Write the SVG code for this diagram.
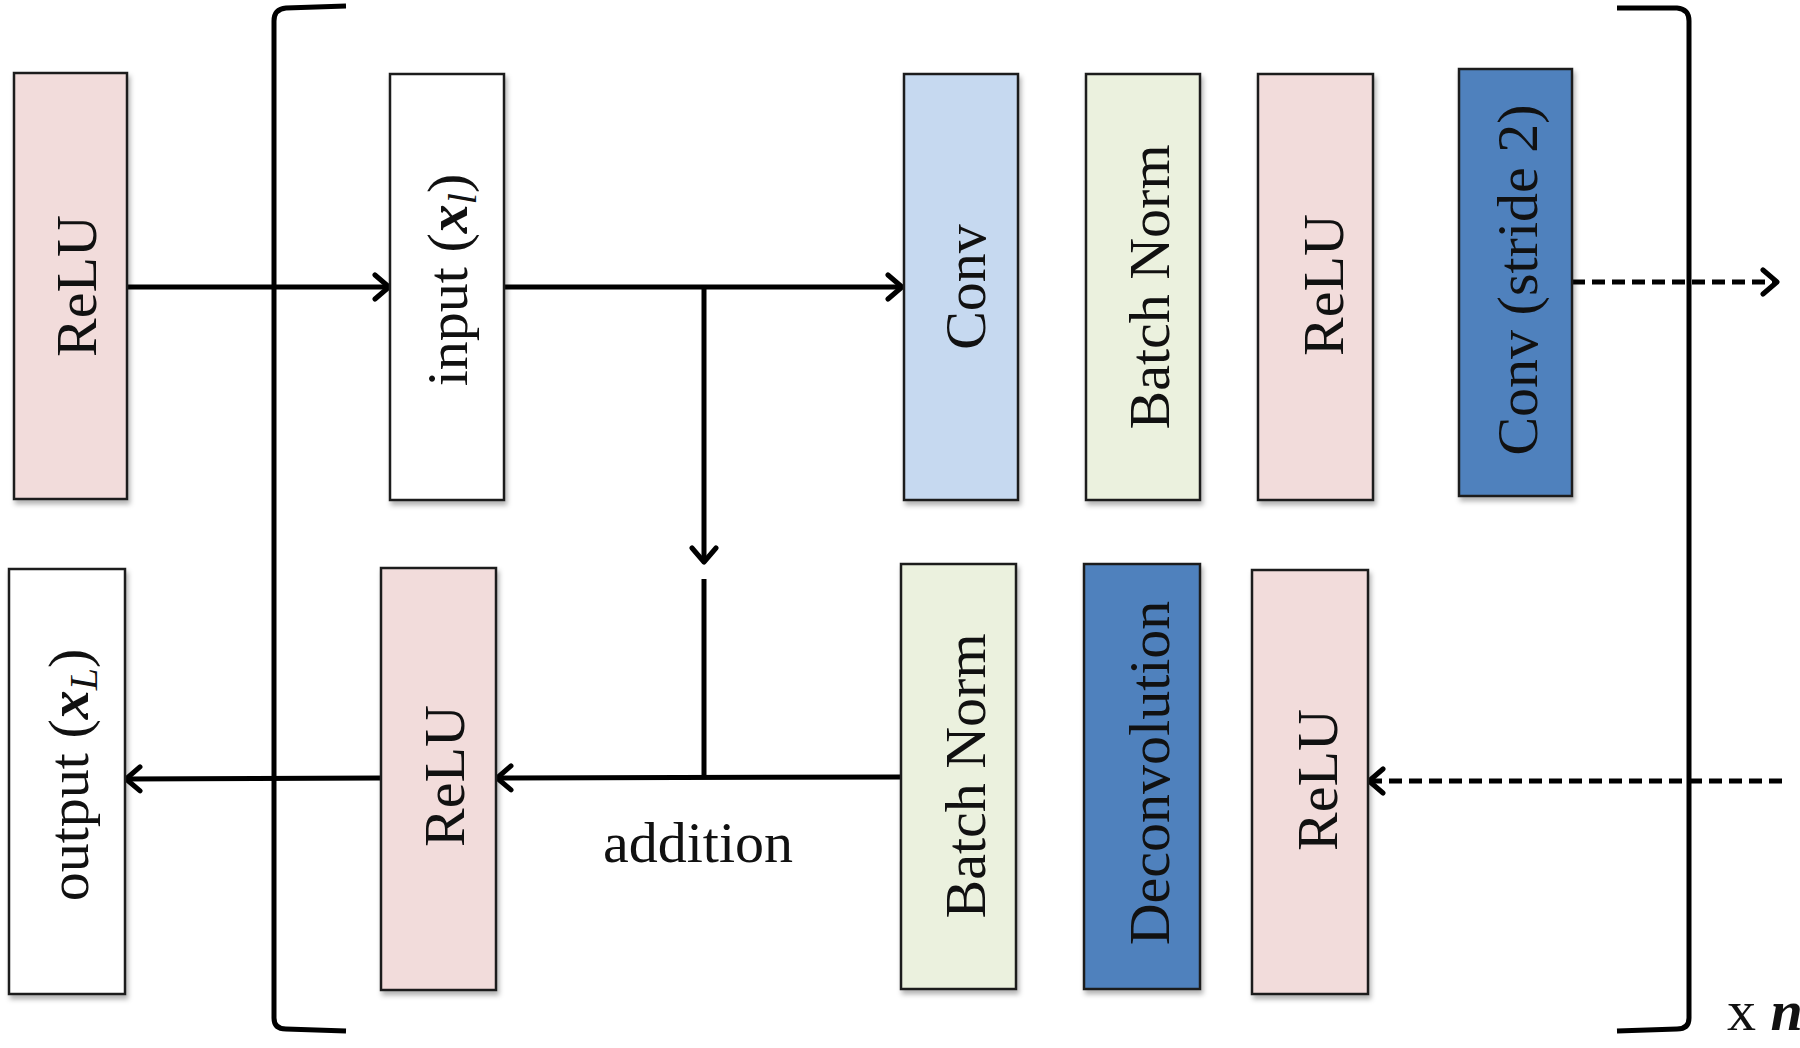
<svg xmlns="http://www.w3.org/2000/svg" width="1800" height="1048" viewBox="0 0 1800 1048">
<style>
.box{stroke:#1e1e1e;stroke-width:2.5;filter:url(#sh)}
.pink{fill:#F2DCDB}
.white{fill:#FFFFFF}
.lblue{fill:#C6D9F0}
.green{fill:#EBF1DE}
.dblue{fill:#4F81BD}
.lbl{font-family:"Liberation Serif","Times New Roman",serif;font-size:58px;fill:#111;text-anchor:middle}
.ln{fill:none;stroke:#000;stroke-width:5}
.dash{stroke-dasharray:13 7}
.brk{fill:none;stroke:#000;stroke-width:5}
</style>
<defs>
<filter id="sh" x="-10%" y="-5%" width="125%" height="115%">
<feDropShadow dx="2" dy="4" stdDeviation="2.5" flood-color="#000" flood-opacity="0.3"/>
</filter>
<marker id="ah" viewBox="0 0 30 30" refX="27" refY="15" markerWidth="30" markerHeight="30" markerUnits="userSpaceOnUse" orient="auto">
<path d="M13,3 L27,15 L13,27" fill="none" stroke="#000" stroke-width="5" stroke-linecap="round" stroke-linejoin="round"/>
</marker>
</defs>
<rect width="1800" height="1048" fill="#fff"/>

<g id="brackets">
<path class="brk" d="M346,6 L286,8 Q274,9 274,21 L274,1018 Q274,1029 286,1029 L346,1031"/>
<path class="brk" d="M1617,8 L1677,8 Q1689,9 1689,21 L1689,1018 Q1689,1029 1677,1029 L1617,1031"/>
</g>

<g id="connectors">
<line class="ln" x1="126" y1="287" x2="389" y2="287" marker-end="url(#ah)"/>
<line class="ln" x1="504" y1="287" x2="902" y2="287" marker-end="url(#ah)"/>
<line class="ln" x1="704" y1="287" x2="704" y2="562" marker-end="url(#ah)"/>
<line class="ln" x1="704" y1="579" x2="704" y2="777"/>
<line class="ln" x1="901" y1="777" x2="497" y2="778" marker-end="url(#ah)"/>
<line class="ln" x1="381" y1="778" x2="126" y2="779" marker-end="url(#ah)"/>
<line class="ln dash" x1="1572" y1="282" x2="1777" y2="282" marker-end="url(#ah)"/>
<line class="ln dash" x1="1782" y1="781" x2="1369" y2="781" marker-end="url(#ah)"/>
</g>

<g id="relu_in">
<rect class="box pink" x="14" y="73" width="113" height="426"/>
<text class="lbl" transform="translate(70,286) rotate(-90)" y="26">ReLU</text>
</g>
<g id="input">
<rect class="box white" x="390" y="74" width="114" height="426"/>
<text class="lbl" transform="translate(447,280) rotate(-90)" y="20">input (<tspan font-weight="bold" font-style="italic">x</tspan><tspan font-style="italic" font-size="40" dy="9">l</tspan><tspan dy="-9">)</tspan></text>
</g>
<g id="conv">
<rect class="box lblue" x="904" y="74" width="114" height="426"/>
<text class="lbl" transform="translate(961,287) rotate(-90)" y="24">Conv</text>
</g>
<g id="bn1">
<rect class="box green" x="1086" y="74" width="114" height="426"/>
<text class="lbl" transform="translate(1143,287) rotate(-90)" y="26">Batch Norm</text>
</g>
<g id="relu1">
<rect class="box pink" x="1258" y="74" width="115" height="426"/>
<text class="lbl" transform="translate(1316,285) rotate(-90)" y="27">ReLU</text>
</g>
<g id="conv_s2">
<rect class="box dblue" x="1459" y="69" width="113" height="427"/>
<text class="lbl" transform="translate(1515,280) rotate(-90)" y="22">Conv (stride 2)</text>
</g>
<g id="output">
<rect class="box white" x="9" y="569" width="116" height="425"/>
<text class="lbl" transform="translate(67,775) rotate(-90)" y="21">output (<tspan font-weight="bold" font-style="italic">x</tspan><tspan font-style="italic" font-size="40" dy="9">L</tspan><tspan dy="-9">)</tspan></text>
</g>
<g id="relu_out">
<rect class="box pink" x="381" y="568" width="115" height="422"/>
<text class="lbl" transform="translate(438,776) rotate(-90)" y="26">ReLU</text>
</g>
<g id="bn2">
<rect class="box green" x="901" y="564" width="115" height="425"/>
<text class="lbl" transform="translate(958,776) rotate(-90)" y="27">Batch Norm</text>
</g>
<g id="deconv">
<rect class="box dblue" x="1084" y="564" width="116" height="425"/>
<text class="lbl" transform="translate(1142,773) rotate(-90)" y="27">Deconvolution</text>
</g>
<g id="relu2">
<rect class="box pink" x="1252" y="570" width="116" height="424"/>
<text class="lbl" transform="translate(1310,780) rotate(-90)" y="27">ReLU</text>
</g>

<g id="labels">
<text class="lbl" x="698" y="862" font-size="56">addition</text>
<text class="lbl" x="1727" y="1030" style="text-anchor:start" font-size="56">x <tspan font-weight="bold" font-style="italic">n</tspan></text>
</g>
</svg>
